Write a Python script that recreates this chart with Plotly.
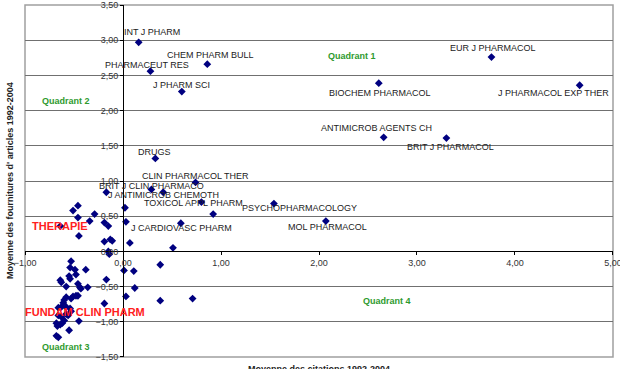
import plotly.graph_objects as go

# ---- data ----
labeled_names = ["INT J PHARM", "CHEM PHARM BULL", "PHARMACEUT RES", "J PHARM SCI", "DRUGS",
                 "CLIN PHARMACOL THER", "BRIT J CLIN PHARMACO", "J ANTIMICROB CHEMOTH",
                 "TOXICOL APPL PHARM", "PSYCHOPHARMACOLOGY", "J CARDIOVASC PHARM", "MOL PHARMACOL",
                 "EUR J PHARMACOL", "BIOCHEM PHARMACOL", "J PHARMACOL EXP THER",
                 "ANTIMICROB AGENTS CH", "BRIT J PHARMACOL", "THERAPIE", "FUNDAM CLIN PHARM"]
labeled_x = [0.16, 0.86, 0.28, 0.60, 0.33, 0.74, 0.29, 0.41, 0.80, 1.54, 0.59, 2.07,
             3.76, 2.61, 4.66, 2.66, 3.30, -0.64, -0.53]
labeled_y = [2.97, 2.66, 2.56, 2.27, 1.32, 0.98, 0.88, 0.84, 0.70, 0.68, 0.40, 0.43,
             2.76, 2.39, 2.36, 1.62, 1.61, 0.36, -0.85]

other_x = [-0.17, -0.46, -0.51, -0.29, 0.02, -0.46, -0.34, -0.19, -0.15, 0.03, -0.45, -0.19,
           -0.13, -0.11, 0.07, -0.15, -0.14, 0.51, 0.92, -0.53, -0.54, -0.49, -0.38, -0.55,
           -0.48, -0.64, -0.63, -0.54, -0.58, -0.46, -0.44, -0.43, -0.36, -0.17, 0.01, 0.11,
           0.12, 0.38, 0.38, 0.71, 0.03, -0.19, -0.48, -0.51, -0.46, -0.53, -0.58, -0.60,
           -0.61, -0.63, -0.66, -0.58, -0.58, -0.56, -0.54, -0.66, -0.63, -0.60, -0.68,
           -0.67, -0.64, -0.62, -0.55, -0.45, -0.68, -0.66]
other_y = [0.84, 0.65, 0.58, 0.53, 0.62, 0.48, 0.43, 0.41, 0.36, 0.42, 0.22, 0.14,
           0.17, 0.15, 0.12, 0.00, -0.04, 0.05, 0.53, -0.14, -0.23, -0.26, -0.26, -0.35,
           -0.33, -0.41, -0.44, -0.39, -0.50, -0.46, -0.51, -0.53, -0.51, -0.40, -0.27, -0.28,
           -0.52, -0.19, -0.70, -0.67, -0.64, -0.74, -0.63, -0.64, -0.63, -0.67, -0.65, -0.69,
           -0.73, -0.79, -0.80, -0.79, -0.89, -0.91, -0.81, -0.91, -0.93, -0.98, -1.02,
           -1.06, -1.04, -1.02, -1.12, -0.99, -1.20, -1.22]

quadrant_labels = ["Quadrant 1", "Quadrant 2", "Quadrant 3", "Quadrant 4"]
quadrant_x = [2.34, -0.58, -0.58, 2.69]
quadrant_y = [2.78, 2.14, -1.36, -0.71]

x_ticks = [-1, 0, 1, 2, 3, 4, 5]
y_ticks = [-1.5, -1.0, -0.5, 0.0, 0.5, 1.0, 1.5, 2.0, 2.5, 3.0, 3.5]

# ---- label offsets in pixels (style) ----
label_offsets = {
    "INT J PHARM": (13, -10), "CHEM PHARM BULL": (3, -9), "PHARMACEUT RES": (-3, -6),
    "J PHARM SCI": (0, -7), "DRUGS": (-1, -6), "CLIN PHARMACOL THER": (0, -6),
    "BRIT J CLIN PHARMACO": (0, -3), "J ANTIMICROB CHEMOTH": (0, 3),
    "TOXICOL APPL PHARM": (-8, 1), "PSYCHOPHARMACOLOGY": (26, 4),
    "J CARDIOVASC PHARM": (1, 5), "MOL PHARMACOL": (2, 6), "EUR J PHARMACOL": (2, -9),
    "BIOCHEM PHARMACOL": (1, 10), "J PHARMACOL EXP THER": (-26, 8),
    "ANTIMICROB AGENTS CH": (-7, -9), "BRIT J PHARMACOL": (4, 9),
    "THERAPIE": (0, 0), "FUNDAM CLIN PHARM": (14, 1),
}
red_labels = {"THERAPIE", "FUNDAM CLIN PHARM"}

FONT = "Liberation Sans, Arial, sans-serif"
TICKFONT = dict(family=FONT, size=9, color="#333333")

fig = go.Figure()
fig.add_trace(go.Scatter(
    x=other_x + labeled_x, y=other_y + labeled_y, mode="markers",
    marker=dict(symbol="diamond", size=6, color="#000080"),
    hoverinfo="x+y", showlegend=False))

annotations = []
for name, x, y in zip(labeled_names, labeled_x, labeled_y):
    dx, dy = label_offsets[name]
    if name in red_labels:
        f = dict(family=FONT, size=11, color="#ff2020", weight="bold")
    else:
        f = dict(family=FONT, size=9, color="#222222")
    annotations.append(dict(x=x, y=y, xref="x", yref="y", text=name, showarrow=False,
                            xshift=dx, yshift=-dy, font=f))
for t, x, y in zip(quadrant_labels, quadrant_x, quadrant_y):
    annotations.append(dict(x=x, y=y, xref="x", yref="y", text="<b>%s</b>" % t, showarrow=False,
                            font=dict(family=FONT, size=9, color="#2e9a2e")))

annotations.append(dict(x=0.5, y=-0.015, xref="paper", yref="paper", yanchor="top",
                        xanchor="center",
                        text="<b>Moyenne des citations 1992-2004</b>", showarrow=False,
                        font=dict(family=FONT, size=9, color="#222222")))
annotations.append(dict(x=(10 - 25) / 588.0, y=0.5, xref="paper", yref="paper",
                        xanchor="center", yanchor="middle",
                        text="<b>Moyenne des fournitures d' articles 1992-2004</b>",
                        showarrow=False, textangle=-90,
                        font=dict(family=FONT, size=9, color="#222222")))

fig.update_layout(
    width=620, height=369,
    margin=dict(l=25, r=7, t=5, b=12, autoexpand=False),
    paper_bgcolor="white", plot_bgcolor="white",
    separators=", ",
    font=dict(family=FONT, size=9, color="#333333"),
    annotations=annotations,
    xaxis=dict(range=[-1.0002, 5.0002], tickvals=x_ticks, tickformat=".2f", showgrid=False,
               zeroline=False, anchor="free", position=0.3, showline=True,
               linecolor="#000000", linewidth=1, ticks="outside", ticklen=3,
               tickcolor="#000000", tickfont=TICKFONT, ticklabeloverflow="allow",
               automargin=False),
    yaxis=dict(range=[-1.5002, 3.5002], tickvals=y_ticks, tickformat=".2f", showgrid=True,
               gridcolor="#707070", gridwidth=1, zeroline=False, anchor="free",
               position=1.0002 / 6.0004, showline=True, linecolor="#000000", linewidth=1,
               ticks="outside", ticklen=3, tickcolor="#000000", tickfont=TICKFONT,
               ticklabeloverflow="allow", automargin=False),
    shapes=[dict(type="rect", xref="paper", yref="paper", x0=0, y0=0, x1=1, y1=1,
                 line=dict(color="#a0a0a0", width=1.5), layer="below")],
)

fig.write_html("out.html")
